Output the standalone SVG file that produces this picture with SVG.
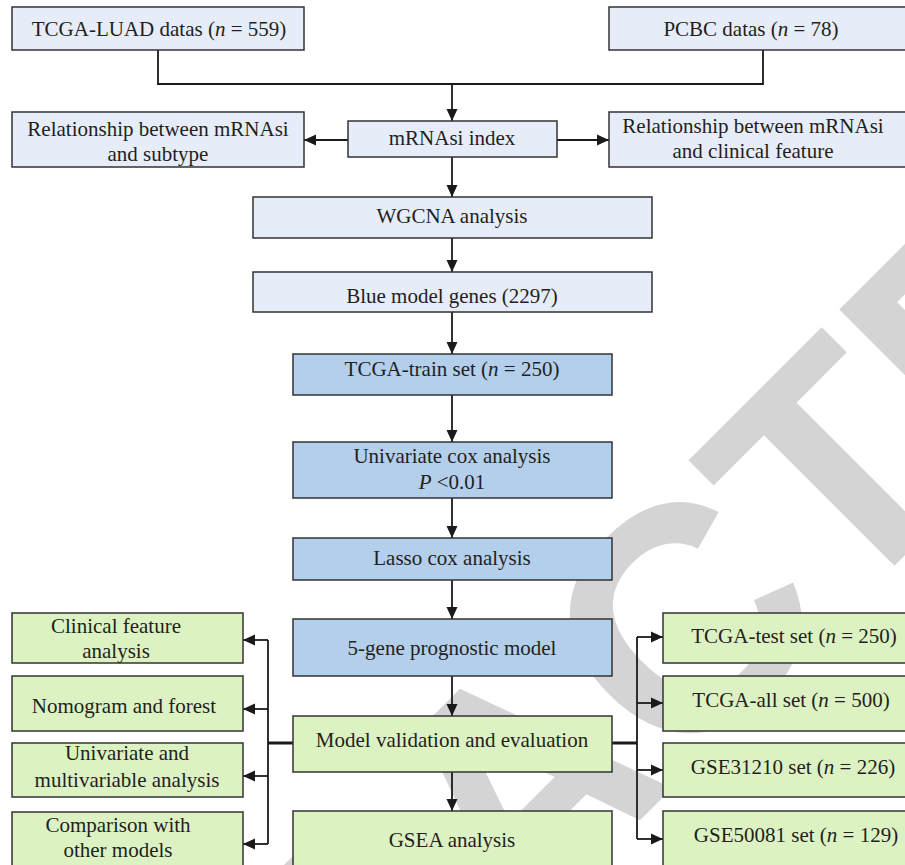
<svg xmlns="http://www.w3.org/2000/svg" width="905" height="865" viewBox="0 0 905 865">
<style>
.box{stroke:#333333;stroke-width:1.5}
.lav{fill:#e7ecf9}
.blu{fill:#b4cfeb}
.grn{fill:#ddf2c2}
text{font-family:"Liberation Serif","Times New Roman",serif;font-size:21px;fill:#231f20;text-anchor:middle}
.ln{fill:none;stroke:#1a1a1a;stroke-width:1.8}
.thick{fill:none;stroke:#1a1a1a;stroke-width:3}
.wm{font-family:"Liberation Sans",Arial,sans-serif;font-weight:bold;font-size:320px;fill:#d4d4d4;text-anchor:middle}
</style>
<defs>
<marker id="ah" markerUnits="userSpaceOnUse" markerWidth="12" markerHeight="12" refX="12" refY="6" orient="auto" viewBox="0 0 12 12">
<path d="M0,0.5 L12,6 L0,11.5 Z" fill="#1a1a1a"/>
</marker>
</defs>
<rect width="905" height="865" fill="#ffffff"/>
<g id="watermark">
<text class="wm" x="0" y="0" transform="translate(596.5,863.7) rotate(-45)">RETRACTED</text>
</g>
<g id="connectors">
<path class="ln" d="M158,50 V84 H763 V50"/>
<path class="ln" d="M452,84 V121" marker-end="url(#ah)"/>
<path class="ln" d="M348,140 H304" marker-end="url(#ah)"/>
<path class="ln" d="M557,140 H609" marker-end="url(#ah)"/>
<path class="ln" d="M452,157 V197" marker-end="url(#ah)"/>
<path class="ln" d="M452,238 V272" marker-end="url(#ah)"/>
<path class="ln" d="M452,312 V354" marker-end="url(#ah)"/>
<path class="ln" d="M452,395 V442" marker-end="url(#ah)"/>
<path class="ln" d="M452,498 V538" marker-end="url(#ah)"/>
<path class="ln" d="M452,580 V619" marker-end="url(#ah)"/>
<path class="ln" d="M452,676 V716" marker-end="url(#ah)"/>
<path class="ln" d="M452,772 V811" marker-end="url(#ah)"/>
<path class="thick" d="M293,743 H268"/>
<path class="ln" d="M268,640 V844"/>
<path class="ln" d="M268,640 H243" marker-end="url(#ah)"/>
<path class="ln" d="M268,709 H243" marker-end="url(#ah)"/>
<path class="ln" d="M268,776 H243" marker-end="url(#ah)"/>
<path class="ln" d="M268,844 H243" marker-end="url(#ah)"/>
<path class="thick" d="M612,743 H637"/>
<path class="ln" d="M637,637 V839"/>
<path class="ln" d="M637,637 H663" marker-end="url(#ah)"/>
<path class="ln" d="M637,703 H663" marker-end="url(#ah)"/>
<path class="ln" d="M637,770 H663" marker-end="url(#ah)"/>
<path class="ln" d="M637,839 H663" marker-end="url(#ah)"/>
</g>
<g id="tcga-luad">
<rect class="box lav" x="12" y="7" width="292" height="43"/>
<text x="159" y="36">TCGA-LUAD datas (<tspan font-style="italic">n</tspan> = 559)</text>
</g>
<g id="pcbc">
<rect class="box lav" x="609" y="7" width="300" height="43"/>
<text x="751" y="36">PCBC datas (<tspan font-style="italic">n</tspan> = 78)</text>
</g>
<g id="mrnasi">
<rect class="box lav" x="348" y="121" width="209" height="36"/>
<text x="452" y="145">mRNAsi index</text>
</g>
<g id="rel-subtype">
<rect class="box lav" x="12" y="112" width="292" height="55"/>
<text x="158" y="136">Relationship between mRNAsi</text>
<text x="158" y="161">and subtype</text>
</g>
<g id="rel-clinical">
<rect class="box lav" x="609" y="112" width="300" height="55"/>
<text x="753" y="133">Relationship between mRNAsi</text>
<text x="753" y="158">and clinical feature</text>
</g>
<g id="wgcna">
<rect class="box lav" x="253" y="197" width="399" height="41"/>
<text x="452" y="223">WGCNA analysis</text>
</g>
<g id="blue-genes">
<rect class="box lav" x="253" y="272" width="399" height="40"/>
<text x="452" y="303">Blue model genes (2297)</text>
</g>
<g id="train">
<rect class="box blu" x="293" y="354" width="319" height="41"/>
<text x="452" y="376">TCGA-train set (<tspan font-style="italic">n</tspan> = 250)</text>
</g>
<g id="univariate-cox">
<rect class="box blu" x="293" y="442" width="319" height="56"/>
<text x="452" y="463">Univariate cox analysis</text>
<text x="452" y="489"><tspan font-style="italic">P</tspan> &lt;0.01</text>
</g>
<g id="lasso">
<rect class="box blu" x="293" y="538" width="319" height="42"/>
<text x="452" y="565">Lasso cox analysis</text>
</g>
<g id="five-gene">
<rect class="box blu" x="293" y="619" width="319" height="57"/>
<text x="452" y="655">5-gene prognostic model</text>
</g>
<g id="validation">
<rect class="box grn" x="293" y="716" width="319" height="56"/>
<text x="452" y="747">Model validation and evaluation</text>
</g>
<g id="gsea">
<rect class="box grn" x="293" y="811" width="319" height="70"/>
<text x="452" y="847">GSEA analysis</text>
</g>
<g id="clinical">
<rect class="box grn" x="12" y="613" width="231" height="50"/>
<text x="116" y="633">Clinical feature</text>
<text x="116" y="658">analysis</text>
</g>
<g id="nomogram">
<rect class="box grn" x="12" y="676" width="231" height="55"/>
<text x="124" y="713">Nomogram and forest</text>
</g>
<g id="uni-multi">
<rect class="box grn" x="12" y="743" width="231" height="54"/>
<text x="127" y="760">Univariate and</text>
<text x="127" y="787">multivariable analysis</text>
</g>
<g id="comparison">
<rect class="box grn" x="12" y="812" width="231" height="70"/>
<text x="118" y="832">Comparison with</text>
<text x="118" y="857">other models</text>
</g>
<g id="tcga-test">
<rect class="box grn" x="663" y="613" width="250" height="50"/>
<text x="794" y="643">TCGA-test set (<tspan font-style="italic">n</tspan> = 250)</text>
</g>
<g id="tcga-all">
<rect class="box grn" x="663" y="676" width="250" height="55"/>
<text x="791" y="707">TCGA-all set (<tspan font-style="italic">n</tspan> = 500)</text>
</g>
<g id="gse31210">
<rect class="box grn" x="663" y="743" width="250" height="54"/>
<text x="793" y="774">GSE31210 set (<tspan font-style="italic">n</tspan> = 226)</text>
</g>
<g id="gse50081">
<rect class="box grn" x="663" y="811" width="250" height="70"/>
<text x="796" y="842">GSE50081 set (<tspan font-style="italic">n</tspan> = 129)</text>
</g>
</svg>
